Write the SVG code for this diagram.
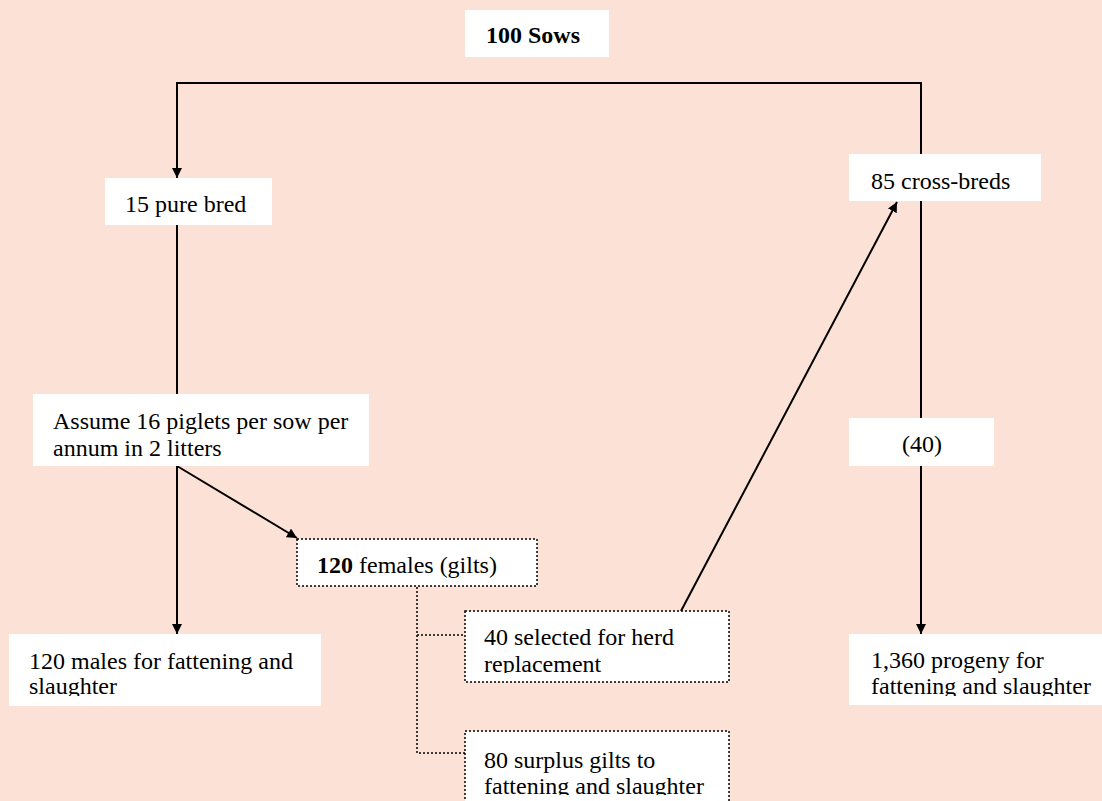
<svg xmlns="http://www.w3.org/2000/svg" width="1102" height="801" viewBox="0 0 1102 801">
<defs>
<style>
.t{font-family:"Liberation Serif","Times New Roman",serif;font-size:24px;fill:#000}
.b{font-weight:bold}
.box{fill:#fff;stroke:none}
.dot{fill:#fff;stroke:#000;stroke-width:1.5;stroke-dasharray:2 2}
.ln{fill:none;stroke:#000;stroke-width:2}
.dl{fill:none;stroke:#000;stroke-width:1.5;stroke-dasharray:2 2}
</style>
<marker id="ah" viewBox="0 0 10 10" refX="10" refY="5" markerWidth="10" markerHeight="10" markerUnits="userSpaceOnUse" orient="auto">
<path d="M0,0 L10,5 L0,10 z" fill="#000"/>
</marker>
<clipPath id="c40"><rect x="465" y="611" width="264" height="62"/></clipPath>
<clipPath id="c80"><rect x="465" y="731" width="264" height="64"/></clipPath>
<clipPath id="cm"><rect x="9" y="634" width="312" height="62"/></clipPath>
<clipPath id="cp"><rect x="849" y="634" width="253" height="62"/></clipPath>
</defs>
<rect width="1102" height="801" fill="#FCE2D6"/>
<g id="connectors">
<polyline class="ln" points="177,177 177,83 921,83 921,154" marker-start="none"/>
<line class="ln" x1="177" y1="83" x2="177" y2="178" marker-end="url(#ah)"/>
<line class="ln" x1="177" y1="225" x2="177" y2="394"/>
<line class="ln" x1="177" y1="466" x2="177" y2="634" marker-end="url(#ah)"/>
<line class="ln" x1="177" y1="466" x2="297" y2="538" marker-end="url(#ah)"/>
<line class="ln" x1="921" y1="201" x2="921" y2="418"/>
<line class="ln" x1="921" y1="466" x2="921" y2="634" marker-end="url(#ah)"/>
<line class="ln" x1="681" y1="611" x2="897" y2="202" marker-end="url(#ah)"/>
<polyline class="dl" points="417,587 417,753 465,753"/>
<line class="dl" x1="417" y1="635" x2="465" y2="635"/>
</g>
<g id="sows">
<rect class="box" x="465" y="10" width="144" height="47"/>
<text class="t b" x="533" y="43" text-anchor="middle">100 Sows</text>
</g>
<g id="purebred">
<rect class="box" x="105" y="178" width="167" height="47"/>
<text class="t" x="125" y="212">15 pure bred</text>
</g>
<g id="crossbreds">
<rect class="box" x="849" y="154" width="192" height="47"/>
<text class="t" x="871" y="189">85 cross-breds</text>
</g>
<g id="assume">
<rect class="box" x="33" y="394" width="336" height="72"/>
<text class="t" x="53" y="429">Assume 16 piglets per sow per</text>
<text class="t" x="53" y="456">annum in 2 litters</text>
</g>
<g id="forty">
<rect class="box" x="849" y="418" width="145" height="48"/>
<text class="t" x="922" y="452" text-anchor="middle">(40)</text>
</g>
<g id="females">
<rect class="dot" x="297" y="539" width="240" height="47"/>
<text class="t" x="317" y="573"><tspan class="b">120</tspan> females (gilts)</text>
</g>
<g id="males">
<rect class="box" x="9" y="634" width="312" height="72"/>
<g clip-path="url(#cm)">
<text class="t" x="29" y="669">120 males for fattening and</text>
<text class="t" x="29" y="694">slaughter</text>
</g>
</g>
<g id="selected">
<rect class="dot" x="465" y="611" width="264" height="71"/>
<g clip-path="url(#c40)">
<text class="t" x="484" y="645">40 selected for herd</text>
<text class="t" x="484" y="672">replacement</text>
</g>
</g>
<g id="surplus">
<rect class="dot" x="465" y="731" width="264" height="80"/>
<g clip-path="url(#c80)">
<text class="t" x="484" y="768">80 surplus gilts to</text>
<text class="t" x="484" y="794">fattening and slaughter</text>
</g>
</g>
<g id="progeny">
<rect class="box" x="849" y="634" width="253" height="71"/>
<g clip-path="url(#cp)">
<text class="t" x="871" y="668">1,360 progeny for</text>
<text class="t" x="871" y="694">fattening and slaughter</text>
</g>
</g>
</svg>
